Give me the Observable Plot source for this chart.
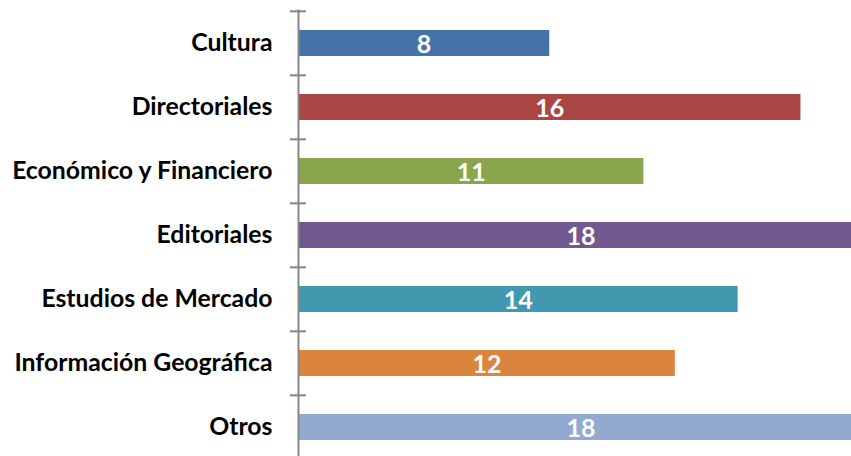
<!DOCTYPE html>
<html>
<head>
<meta charset="utf-8">
<script src="https://cdn.jsdelivr.net/npm/d3@7"></script>
<script src="https://cdn.jsdelivr.net/npm/@observablehq/plot@0.6"></script>
<style>
  html, body { margin: 0; padding: 0; background: #fff; overflow: hidden; }
  #chart svg { display: block; }
</style>
</head>
<body>
<div id="chart"></div>
<script>
const categories = ["Cultura", "Directoriales", "Económico y Financiero", "Editoriales", "Estudios de Mercado", "Información Geográfica", "Otros"];
const values = [8, 16, 11, 18, 14, 12, 18];
const colors = ["#4572A7", "#AA4643", "#89A54E", "#71588F", "#4198AF", "#DB843D", "#93A9CF"];

const data = categories.map((c, i) => ({category: c, value: values[i], color: colors[i]}));

const W = 851, H = 456;
const step = 64.37;

const chart = Plot.plot({
  width: W,
  height: H,
  marginLeft: 298,
  marginRight: 0,
  marginTop: 9.5,
  marginBottom: 0,
  style: {fontFamily: "Lato, sans-serif", background: "transparent"},
  x: {domain: [0, 17.61], axis: null},
  y: {
    type: "band",
    domain: categories,
    range: [9.5, 9.5 + step * 7],
    paddingInner: 0.6,
    paddingOuter: 0.3,
    label: null
  },
  marks: [
    Plot.barX(data, {y: "category", x: "value", fill: "color", clip: true}),
    Plot.text(data, {
      y: "category", x: d => d.value / 2, text: d => String(d.value),
      fill: "white", fontSize: 25, fontWeight: "bold", dy: 1
    }),
    Plot.ruleX([0], {stroke: "#868686", strokeWidth: 2}),
    Plot.ruleY(categories, {
      y: d => d, x1: 0, x2: 0, insetLeft: -8, insetRight: -8,
      dy: -step / 2, stroke: "#868686", strokeWidth: 2
    }),
    Plot.axisY({
      tickSize: 0, tickPadding: 26, fontSize: 24.8, fontWeight: "bold",
      fill: "black", label: null
    })
  ]
});

document.getElementById("chart").append(chart);
</script>
</body>
</html>
